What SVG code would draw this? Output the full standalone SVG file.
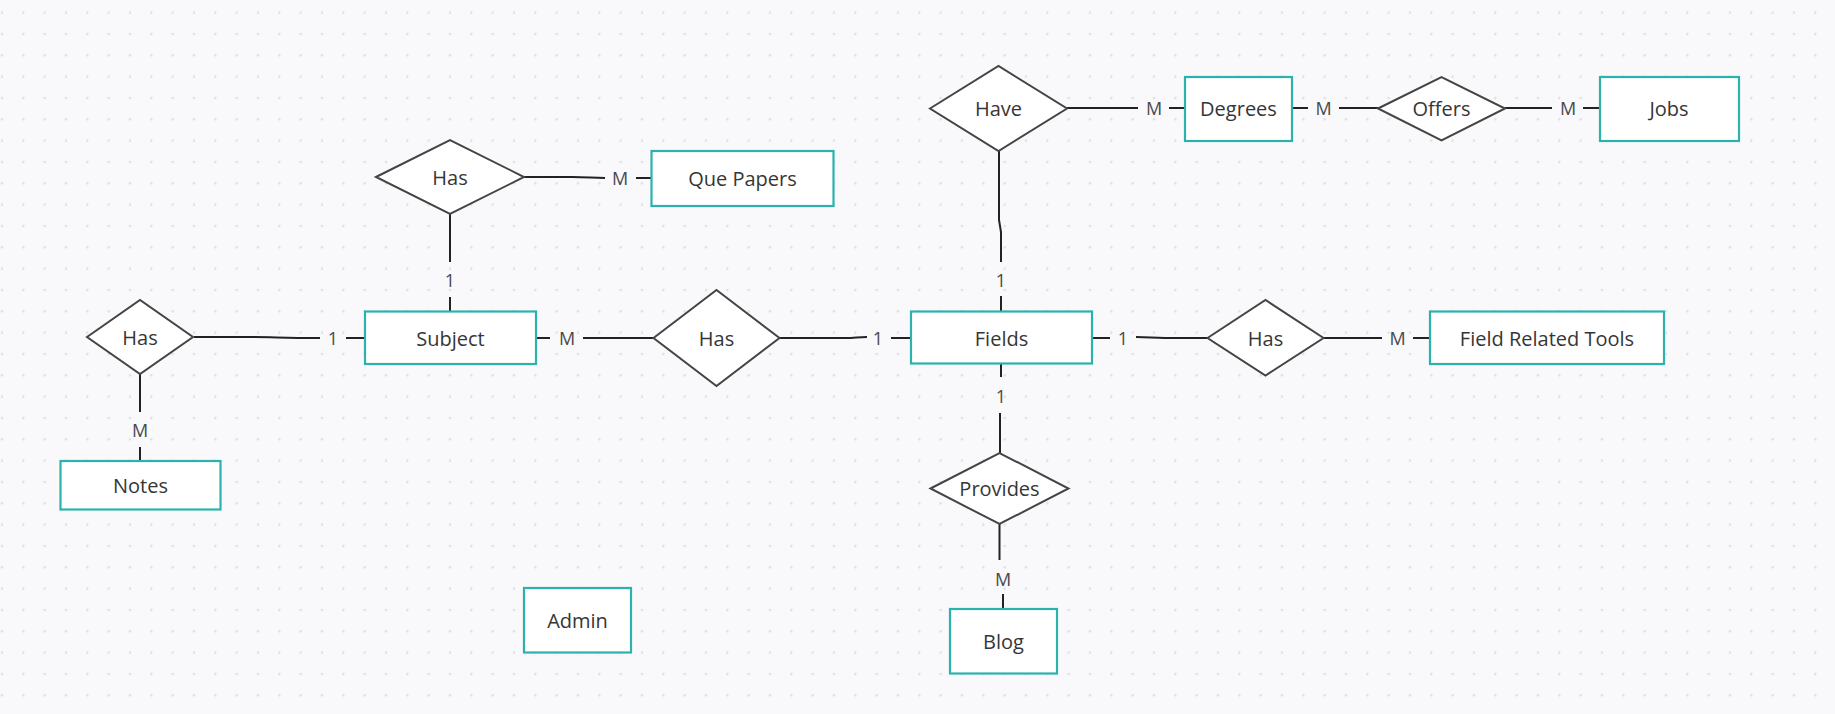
<svg xmlns="http://www.w3.org/2000/svg" width="1835" height="714" viewBox="0 0 1835 714">
<defs>
<pattern id="dots" x="0" y="0" width="21.333" height="21.333" patternUnits="userSpaceOnUse">
<circle cx="2" cy="12.67" r="1.3" fill="#dedee4"/>
</pattern>
<style>
.ent{fill:#ffffff;stroke:#2bb2ae;stroke-width:2.2}
.rel{fill:#ffffff;stroke:#444444;stroke-width:2}
.lbl{font-family:"Open Sans","Noto Sans","Liberation Sans",sans-serif;font-size:20px;fill:#363636;text-anchor:middle}
.card{font-family:"Open Sans","Noto Sans","Liberation Sans",sans-serif;font-size:18px;fill:#4a4a4a;text-anchor:middle}
.con{fill:none;stroke:#222222;stroke-width:2}
</style>
</defs>
<rect x="0" y="0" width="1835" height="714" fill="#f9f9fb"/>
<rect x="0" y="0" width="1835" height="714" fill="url(#dots)"/>

<g id="connectors">
<path class="con" d="M524,177 L572,177 C588,177 592,178 605,178"/>
<path class="con" d="M636,178 L651,178"/>
<path class="con" d="M450,214 L450,262"/>
<path class="con" d="M450,297 L450,311"/>
<path class="con" d="M194,337 L255,337 C275,337 282,338 320,338"/>
<path class="con" d="M346,338 L365,338"/>
<path class="con" d="M140,374 L140,412"/>
<path class="con" d="M140,447 L140,461"/>
<path class="con" d="M536,338 L550,338"/>
<path class="con" d="M583,338 L653,338"/>
<path class="con" d="M780,338 L845,338 C855,338 858,337 867,337"/>
<path class="con" d="M891,338 L911,338"/>
<path class="con" d="M999,151 L999,220 L1001,232 L1001,262"/>
<path class="con" d="M1001,296 L1001,311"/>
<path class="con" d="M1067,108 L1138,108"/>
<path class="con" d="M1169,108 L1185,108"/>
<path class="con" d="M1292,108 L1308,108"/>
<path class="con" d="M1339,108 L1378,108"/>
<path class="con" d="M1505,108 L1552,108"/>
<path class="con" d="M1583,108 L1600,108"/>
<path class="con" d="M1092,338 L1110,338"/>
<path class="con" d="M1136,337 C1150,337 1152,338 1165,338 L1207,338"/>
<path class="con" d="M1324,338 L1382,338"/>
<path class="con" d="M1413,338 L1430,338"/>
<path class="con" d="M1001,363 L1001,377"/>
<path class="con" d="M1000,413 L1000,453"/>
<path class="con" d="M999.5,524 L999.5,560"/>
<path class="con" d="M1003,594 L1003,609"/>
<text class="card" x="620" y="184.5">M</text>
<text class="card" x="450" y="287">1</text>
<text class="card" x="333" y="344.5">1</text>
<text class="card" x="140" y="437">M</text>
<text class="card" x="567" y="344.5">M</text>
<text class="card" x="878" y="344.5">1</text>
<text class="card" x="1001" y="287">1</text>
<text class="card" x="1154" y="114.5">M</text>
<text class="card" x="1323.5" y="114.5">M</text>
<text class="card" x="1568" y="114.5">M</text>
<text class="card" x="1123" y="344.5">1</text>
<text class="card" x="1397.5" y="344.5">M</text>
<text class="card" x="1001" y="402.5">1</text>
<text class="card" x="1003" y="585.5">M</text>
</g>

<g id="rel-has-quepapers">
<polygon class="rel" points="376,177 450,140 524,177 450,214"/>
<text class="lbl" x="450" y="184.5">Has</text>
</g>
<g id="rel-has-notes">
<polygon class="rel" points="87,337 140,300 193,337 140,374"/>
<text class="lbl" x="140" y="344.5">Has</text>
</g>
<g id="rel-has-fields">
<polygon class="rel" points="653.5,338 716.5,290 779.5,338 716.5,386"/>
<text class="lbl" x="716.5" y="345.5">Has</text>
</g>
<g id="rel-have">
<polygon class="rel" points="930,108.5 998.5,66 1067,108.5 998.5,151"/>
<text class="lbl" x="998.5" y="116">Have</text>
</g>
<g id="rel-offers">
<polygon class="rel" points="1378,108.5 1441.5,77 1505,108.5 1441.5,140.5"/>
<text class="lbl" x="1441.5" y="116">Offers</text>
</g>
<g id="rel-has-tools">
<polygon class="rel" points="1207.5,338 1265.5,300 1323.5,338 1265.5,375.5"/>
<text class="lbl" x="1265.5" y="345.5">Has</text>
</g>
<g id="rel-provides">
<polygon class="rel" points="930.5,488.5 999.5,453 1068.5,488.5 999.5,524"/>
<text class="lbl" x="999.5" y="496">Provides</text>
</g>

<g id="ent-subject">
<rect class="ent" x="365" y="311.5" width="171" height="52.5"/>
<text class="lbl" x="450.5" y="345.5">Subject</text>
</g>
<g id="ent-quepapers">
<rect class="ent" x="651.5" y="151" width="182" height="55"/>
<text class="lbl" x="742.5" y="186">Que Papers</text>
</g>
<g id="ent-fields">
<rect class="ent" x="911" y="311.5" width="181" height="52"/>
<text class="lbl" x="1001.5" y="345.5">Fields</text>
</g>
<g id="ent-degrees">
<rect class="ent" x="1185" y="77" width="107" height="64"/>
<text class="lbl" x="1238.5" y="116">Degrees</text>
</g>
<g id="ent-jobs">
<rect class="ent" x="1600" y="77" width="139" height="64"/>
<text class="lbl" x="1669" y="116">Jobs</text>
</g>
<g id="ent-tools">
<rect class="ent" x="1430" y="311.5" width="234" height="52.5"/>
<text class="lbl" x="1547" y="345.5">Field Related Tools</text>
</g>
<g id="ent-notes">
<rect class="ent" x="60.5" y="461" width="160" height="48.5"/>
<text class="lbl" x="140.5" y="493">Notes</text>
</g>
<g id="ent-admin">
<rect class="ent" x="524" y="588" width="107" height="64.5"/>
<text class="lbl" x="577.5" y="627.5">Admin</text>
</g>
<g id="ent-blog">
<rect class="ent" x="950" y="609" width="107" height="64.5"/>
<text class="lbl" x="1003.5" y="649">Blog</text>
</g>
</svg>
